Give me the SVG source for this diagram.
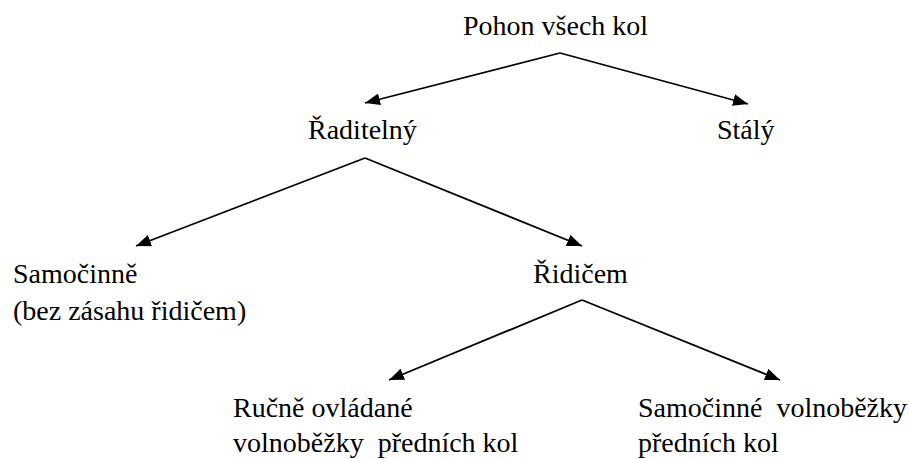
<svg xmlns="http://www.w3.org/2000/svg" width="909" height="459" viewBox="0 0 909 459">
<style>
.t text{font-family:"Times New Roman",Times,"Liberation Serif","Noto Serif","DejaVu Serif",Tinos,FreeSerif,serif;font-size:28px;fill:#000;white-space:pre}
.c line{stroke:#000;stroke-width:1.8;marker-end:url(#ah)}
</style>
<defs>
<marker id="ah" markerUnits="userSpaceOnUse" markerWidth="16" markerHeight="12" refX="15" refY="6" orient="auto">
<path d="M0,0 L15,6 L0,12 Z" fill="#000"/>
</marker>
</defs>
<rect width="909" height="459" fill="#fff"/>
<g class="c" id="connectors">
<line x1="560" y1="53" x2="365" y2="103"/>
<line x1="560" y1="53" x2="748" y2="104"/>
<line x1="365" y1="158" x2="136" y2="246"/>
<line x1="365" y1="158" x2="582" y2="246"/>
<line x1="582" y1="300" x2="389" y2="380"/>
<line x1="582" y1="300" x2="780" y2="380"/>
</g>
<g class="t">
<g id="n-pohon"><text x="463" y="35">Pohon všech kol</text></g>
<g id="n-raditelny"><text x="308" y="139">Řaditelný</text></g>
<g id="n-staly"><text x="717" y="139">Stálý</text></g>
<g id="n-samocinne"><text x="13" y="283">Samočinně</text><text x="13" y="320">(bez zásahu řidičem)</text></g>
<g id="n-ridicem"><text x="533" y="283">Řidičem</text></g>
<g id="n-rucne"><text x="233" y="417">Ručně ovládané</text><text x="233" y="452">volnoběžky  předních kol</text></g>
<g id="n-volnobezky"><text x="638" y="417">Samočinné  volnoběžky</text><text x="638" y="452">předních kol</text></g>
</g>
</svg>
